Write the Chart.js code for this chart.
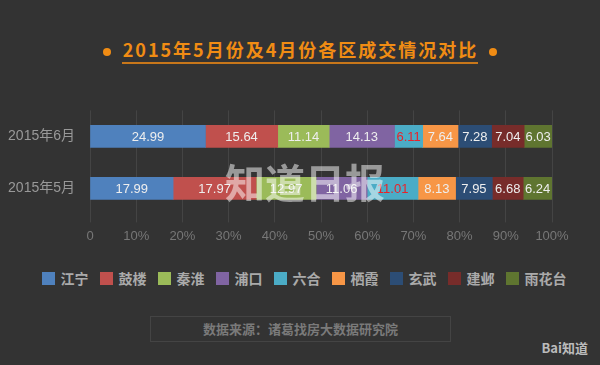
<!DOCTYPE html>
<html>
<head>
<meta charset="utf-8">
<script src="https://cdn.jsdelivr.net/npm/chart.js@4"></script>
<style>
  html, body { margin: 0; padding: 0; background: #333333; }
  #wrap { position: relative; width: 600px; height: 365px; overflow: hidden; background: #333333;
          font-family: "Noto Sans CJK SC", "Noto Sans", sans-serif; }
  #title { position: absolute; left: 0; width: 600px; top: 38px; text-align: center; color: #f08c14;
           font-size: 18px; line-height: 22px; font-weight: bold; }
  #title span.t { border-bottom: 2px solid #c8771a; letter-spacing: 2px; padding-left: 1px; }
  #title span.dot { display: inline-block; width: 8px; height: 8px; border-radius: 50%; background: #f08c14;
                    margin: 0 11px; vertical-align: middle; }
  #chartBox { position: absolute; left: 0; top: 95px; width: 600px; height: 155px; }
  #legend { position: absolute; left: 0; width: 600px; top: 268px; display: flex; justify-content: center;
            gap: 11px; padding-left: 8px; box-sizing: border-box; }
  #legend .item { display: flex; align-items: center; color: #aaaaaa; font-size: 14px; font-weight: bold; }
  #legend .box { width: 13px; height: 13px; margin-right: 6px; }
  #source { position: absolute; left: 150px; top: 316px; width: 299px; height: 24px; border: 1px solid #444;
            color: #7a7a7a; font-size: 13px; font-weight: bold; text-align: center; line-height: 24px; }
  #logo { position: absolute; right: 12px; top: 338px; color: #bbb; font-size: 13px; font-weight: bold; }
</style>
</head>
<body>
<div id="wrap">
  <div id="title"><span class="dot"></span><span class="t">2015年5月份及4月份各区成交情况对比</span><span class="dot"></span></div>
  <div id="chartBox"><canvas id="c"></canvas></div>
  <div id="legend"></div>
  <div id="source">数据来源：诸葛找房大数据研究院</div>
  <div id="logo">Bai知道</div>
</div>
<script>
const months = ["2015年6月", "2015年5月"];
const districts = ["江宁", "鼓楼", "秦淮", "浦口", "六合", "栖霞", "玄武", "建邺", "雨花台"];
const juneValues = [24.99, 15.64, 11.14, 14.13, 6.11, 7.64, 7.28, 7.04, 6.03];
const mayValues = [17.99, 17.97, 12.97, 11.06, 11.01, 8.13, 7.95, 6.68, 6.24];
const colors = ["#4f81bd", "#c0504d", "#9bbb59", "#8064a2", "#4bacc6", "#f79646", "#2c4d75", "#772c2a", "#5f7530"];
const labelColors = ["#eeeeee", "#eeeeee", "#eeeeee", "#eeeeee", "#e8232b", "#eeeeee", "#eeeeee", "#eeeeee", "#eeeeee"];
const xTicks = ["0", "10%", "20%", "30%", "40%", "50%", "60%", "70%", "80%", "90%", "100%"];

let datasets = districts.map(function (name, i) {
    return {
        label: name,
        data: [juneValues[i], mayValues[i]],
        backgroundColor: colors[i],
        borderWidth: 0,
        barThickness: 22
    };
});

// legend built from the same arrays
let legendEl = document.getElementById("legend");
districts.forEach(function (name, i) {
    let item = document.createElement("div");
    item.className = "item";
    item.innerHTML = '<span class="box" style="background:' + colors[i] + '"></span>' + name;
    legendEl.appendChild(item);
});

// draw the numbers inside each segment
const valueLabels = {
    id: 'valueLabels',
    afterDatasetsDraw(chart) {
        let ctx = chart.ctx;
        ctx.save();
        ctx.font = '13px "Liberation Sans", "DejaVu Sans", sans-serif';
        ctx.textAlign = 'center';
        ctx.textBaseline = 'middle';
        chart.data.datasets.forEach(function (ds, i) {
            let meta = chart.getDatasetMeta(i);
            meta.data.forEach(function (bar, j) {
                let cx = (bar.x + bar.base) / 2;
                ctx.fillStyle = labelColors[i];
                ctx.fillText(ds.data[j].toFixed(2), cx, bar.y + 1);
            });
        });
        // watermark
        ctx.font = 'bold 40px "Noto Sans CJK SC", sans-serif';
        ctx.fillStyle = 'rgba(255,255,255,0.5)';
        ctx.textAlign = 'left';
        ctx.fillText('知道日报', 225, 88);
        ctx.restore();
    }
};

new Chart(document.getElementById("c").getContext("2d"), {
    type: 'bar',
    data: {labels: months, datasets: datasets},
    plugins: [valueLabels],
    options: {
        indexAxis: 'y',
        responsive: true,
        maintainAspectRatio: false,
        animation: false,
        layout: {padding: {left: 0, right: 48, top: 12, bottom: 0}},
        scales: {
            x: {
                stacked: true,
                min: 0,
                max: 100,
                ticks: {
                    stepSize: 10,
                    color: '#777777',
                    font: {size: 13, family: '"Liberation Sans", sans-serif'},
                    padding: 6,
                    callback: function (v, idx) { return xTicks[idx]; }
                },
                grid: {color: '#444444', drawTicks: true, tickLength: 8},
                border: {display: false}
            },
            y: {
                stacked: true,
                afterFit: function (axis) { axis.width = 90; },
                ticks: {color: '#999999', font: {size: 14, family: '"Liberation Sans", "Noto Sans CJK SC", sans-serif'}, padding: 7},
                grid: {display: false},
                border: {display: false}
            }
        },
        plugins: {
            legend: {display: false},
            tooltip: {enabled: false}
        }
    }
});
</script>
</body>
</html>
